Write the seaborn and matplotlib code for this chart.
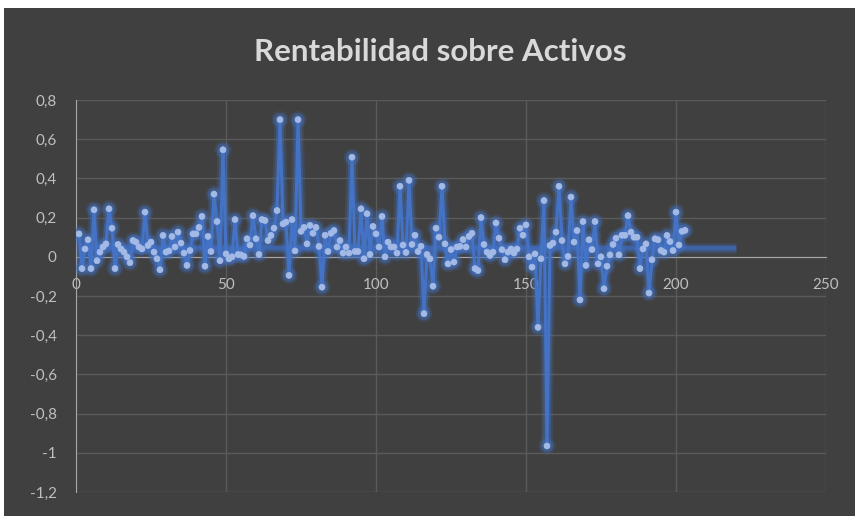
import numpy as np
import pandas as pd
import seaborn as sns
import matplotlib.pyplot as plt
from matplotlib import patheffects as pe
from matplotlib.patches import Rectangle
from matplotlib.ticker import FuncFormatter

sns.set_style('dark')
plt.rcParams['font.family'] = ['Lato', 'DejaVu Sans']

# Rentabilidad sobre activos por observación
rentabilidad = [
    0.117, -0.06, 0.04, 0.087, -0.06, 0.24, -0.02, 0.024, 0.05, 0.066,
    0.245, 0.146, -0.06, 0.063, 0.04, 0.024, 0.0, -0.03, 0.083, 0.075,
    0.05, 0.04, 0.228, 0.058, 0.075, 0.024, -0.01, -0.066, 0.109, 0.024,
    0.03, 0.104, 0.05, 0.126, 0.07, 0.019, -0.044, 0.032, 0.117, 0.117,
    0.15, 0.206, -0.048, 0.104, 0.027, 0.32, 0.18, -0.02, 0.546, 0.015,
    -0.01, 0.0, 0.19, 0.012, 0.01, 0.002, 0.092, 0.06, 0.21, 0.092,
    0.012, 0.19, 0.185, 0.083, 0.109, 0.146, 0.236, 0.70, 0.168, 0.177,
    -0.095, 0.19, 0.03, 0.70, 0.13, 0.15, 0.066, 0.16, 0.12, 0.15,
    0.053, -0.155, 0.11, 0.027, 0.12, 0.134, 0.05, 0.083, 0.019, 0.05,
    0.019, 0.508, 0.027, 0.027, 0.245, -0.01, 0.22, 0.012, 0.155, 0.117,
    0.05, 0.206, 0.0, 0.075, 0.05, 0.05, 0.019, 0.36, 0.06, 0.022,
    0.39, 0.063, 0.11, 0.027, 0.054, -0.29, 0.012, -0.01, -0.15, 0.146,
    0.1, 0.36, 0.066, -0.036, 0.037, -0.027, 0.05, 0.053, 0.088, 0.05,
    0.104, 0.12, -0.06, -0.07, 0.2, 0.063, 0.024, 0.007, 0.024, 0.173,
    0.095, 0.036, -0.015, 0.024, 0.04, 0.019, 0.04, 0.146, 0.11, 0.163,
    0.0, -0.053, 0.015, -0.36, -0.01, 0.287, -0.965, 0.058, 0.07, 0.126,
    0.36, 0.083, -0.036, 0.002, 0.305, 0.075, 0.134, -0.22, 0.18, -0.044,
    0.087, 0.037, 0.18, -0.036, 0.0, -0.163, -0.048, 0.01, 0.063, 0.095,
    0.01, 0.11, 0.11, 0.21, 0.126, 0.1, 0.1, -0.06, 0.04, 0.066,
    -0.185, -0.015, 0.092, 0.087, 0.032, 0.024, 0.109, 0.078, 0.032, 0.228,
    0.06, 0.13, 0.135,
]
periodo = list(range(1, len(rentabilidad) + 1))

# línea horizontal de fondo (promedio)
media_x = [1, 220]
media_y = [0.045, 0.045]

y_ticks = [0.8, 0.6, 0.4, 0.2, 0, -0.2, -0.4, -0.6, -0.8, -1, -1.2]
x_ticks = [0, 50, 100, 150, 200, 250]

df = pd.DataFrame({'Periodo': periodo, 'ROA': rentabilidad})

bg = '#404040'
azul = '#4472c4'
texto = '#d9d9d9'

fig = plt.figure(figsize=(8.55, 5.16), dpi=100, facecolor='white')
fig.patches.append(Rectangle((4 / 855, 0), 1, 1 - 8 / 516, transform=fig.transFigure,
                             facecolor=bg, edgecolor='none', zorder=-10))

ax = fig.add_axes([76 / 855, 24 / 516, 750 / 855, 392 / 516])
ax.set_facecolor(bg)

# brillo suave alrededor de la serie
glow = [pe.Stroke(linewidth=8, foreground=azul, alpha=0.18),
        pe.Stroke(linewidth=5, foreground=azul, alpha=0.35),
        pe.Normal()]

ax.plot(media_x, media_y, color='#3d63ab', lw=2.6, solid_capstyle='butt', zorder=2,
        path_effects=glow)
sns.lineplot(data=df, x='Periodo', y='ROA', ax=ax, color=azul, lw=2.2, zorder=3,
             marker='o', markersize=4.3, markerfacecolor='#a3bae6',
             markeredgecolor='#a3bae6', markeredgewidth=0.5, path_effects=glow)

ax.set_xlim(0, 250)
ax.set_ylim(-1.2, 0.8)
ax.set_xticks(x_ticks)
ax.set_yticks(y_ticks)
ax.grid(True, color='#5a5a5a', lw=1)
ax.set_axisbelow(True)

coma = FuncFormatter(lambda v, p: ('%g' % round(v, 1)).replace('.', ','))
ax.yaxis.set_major_formatter(coma)

for s in ['top', 'right']:
    ax.spines[s].set_visible(False)
ax.spines['bottom'].set_position(('data', 0))
ax.spines['bottom'].set_color('#a6a6a6')
ax.spines['left'].set_color('#a6a6a6')
ax.spines['bottom'].set_zorder(1)

ax.tick_params(axis='both', length=0, colors='#bfbfbf', labelsize=11)
ax.tick_params(axis='y', pad=14)
ax.tick_params(axis='x', pad=15)
ax.set_xlabel('')
ax.set_ylabel('')

fig.text(0.515, 1 - 52 / 516, 'Rentabilidad sobre Activos', ha='center', va='center',
         fontsize=22.5, fontweight='bold', color=texto)

fig.savefig('out.png', dpi=100, facecolor='white')
